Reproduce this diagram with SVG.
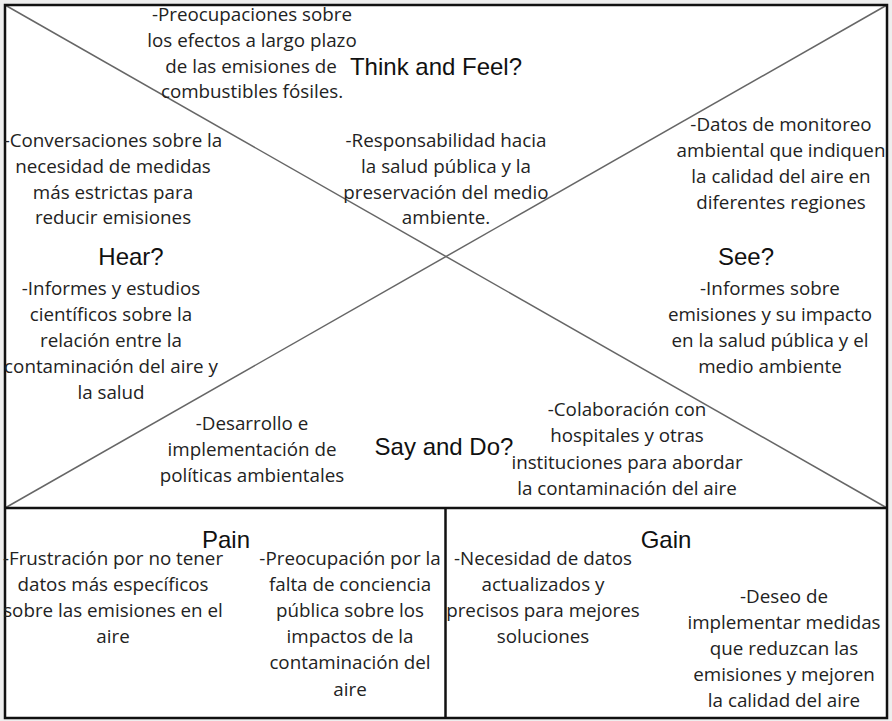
<svg xmlns="http://www.w3.org/2000/svg" width="892" height="721" viewBox="0 0 892 721">
<style>
.t{font-family:"Open Sans","Noto Sans",sans-serif;font-size:18.8px;fill:#222;text-anchor:middle}
.h{font-family:"Liberation Sans",Arial,sans-serif;font-size:24px;fill:#111;text-anchor:middle}
.d{stroke:#666;stroke-width:1.5;fill:none}
.b{stroke:#111;stroke-width:2.5;fill:none}
</style>
<rect x="0" y="0" width="892" height="721" fill="#eeeeee"/>
<rect x="5" y="5" width="882" height="713" fill="#ffffff"/>
<g id="connectors">
<line class="d" x1="5" y1="5" x2="887" y2="508"/>
<line class="d" x1="887" y1="5" x2="5" y2="508"/>
<line class="b" x1="5" y1="508" x2="887" y2="508"/>
<line class="b" x1="445.5" y1="508" x2="445.5" y2="718"/>
<rect class="b" x="5" y="5" width="882" height="713"/>
</g>
<g id="think">
<text class="h" x="436" y="75">Think and Feel?</text>
<text class="t" x="252" y="21">-Preocupaciones sobre</text>
<text class="t" x="252" y="47">los efectos a largo plazo</text>
<text class="t" x="251" y="73">de las emisiones de</text>
<text class="t" x="252" y="98">combustibles fósiles.</text>
<text class="t" x="446" y="147">-Responsabilidad hacia</text>
<text class="t" x="446" y="173">la salud pública y la</text>
<text class="t" x="446" y="199">preservación del medio</text>
<text class="t" x="446" y="224">ambiente.</text>
</g>
<g id="hear">
<text class="h" x="131" y="265">Hear?</text>
<text class="t" x="113" y="147">-Conversaciones sobre la</text>
<text class="t" x="113" y="173">necesidad de medidas</text>
<text class="t" x="113" y="199">más estrictas para</text>
<text class="t" x="113" y="224">reducir emisiones</text>
<text class="t" x="111" y="295">-Informes y estudios</text>
<text class="t" x="111" y="321">científicos sobre la</text>
<text class="t" x="111" y="347">relación entre la</text>
<text class="t" x="111" y="373">contaminación del aire y</text>
<text class="t" x="111" y="399">la salud</text>
</g>
<g id="see">
<text class="h" x="746" y="265">See?</text>
<text class="t" x="781" y="131">-Datos de monitoreo</text>
<text class="t" x="781" y="157">ambiental que indiquen</text>
<text class="t" x="781" y="183">la calidad del aire en</text>
<text class="t" x="781" y="209">diferentes regiones</text>
<text class="t" x="770" y="295">-Informes sobre</text>
<text class="t" x="770" y="321">emisiones y su impacto</text>
<text class="t" x="770" y="347">en la salud pública y el</text>
<text class="t" x="770" y="373">medio ambiente</text>
</g>
<g id="say">
<text class="h" x="444" y="455">Say and Do?</text>
<text class="t" x="252" y="430">-Desarrollo e</text>
<text class="t" x="252" y="456">implementación de</text>
<text class="t" x="252" y="482">políticas ambientales</text>
<text class="t" x="627" y="416">-Colaboración con</text>
<text class="t" x="627" y="442">hospitales y otras</text>
<text class="t" x="627" y="469">instituciones para abordar</text>
<text class="t" x="627" y="495">la contaminación del aire</text>
</g>
<g id="pain">
<text class="h" x="226" y="548">Pain</text>
<text class="t" x="113" y="565">-Frustración por no tener</text>
<text class="t" x="113" y="591">datos más específicos</text>
<text class="t" x="113" y="617">sobre las emisiones en el</text>
<text class="t" x="113" y="643">aire</text>
<text class="t" x="350" y="565">-Preocupación por la</text>
<text class="t" x="350" y="591">falta de conciencia</text>
<text class="t" x="350" y="617">pública sobre los</text>
<text class="t" x="350" y="643">impactos de la</text>
<text class="t" x="350" y="669">contaminación del</text>
<text class="t" x="350" y="696">aire</text>
</g>
<g id="gain">
<text class="h" x="666" y="548">Gain</text>
<text class="t" x="543" y="565">-Necesidad de datos</text>
<text class="t" x="543" y="591">actualizados y</text>
<text class="t" x="543" y="617">precisos para mejores</text>
<text class="t" x="543" y="643">soluciones</text>
<text class="t" x="784" y="603">-Deseo de</text>
<text class="t" x="784" y="629">implementar medidas</text>
<text class="t" x="784" y="655">que reduzcan las</text>
<text class="t" x="784" y="681">emisiones y mejoren</text>
<text class="t" x="784" y="707">la calidad del aire</text>
</g>
</svg>
